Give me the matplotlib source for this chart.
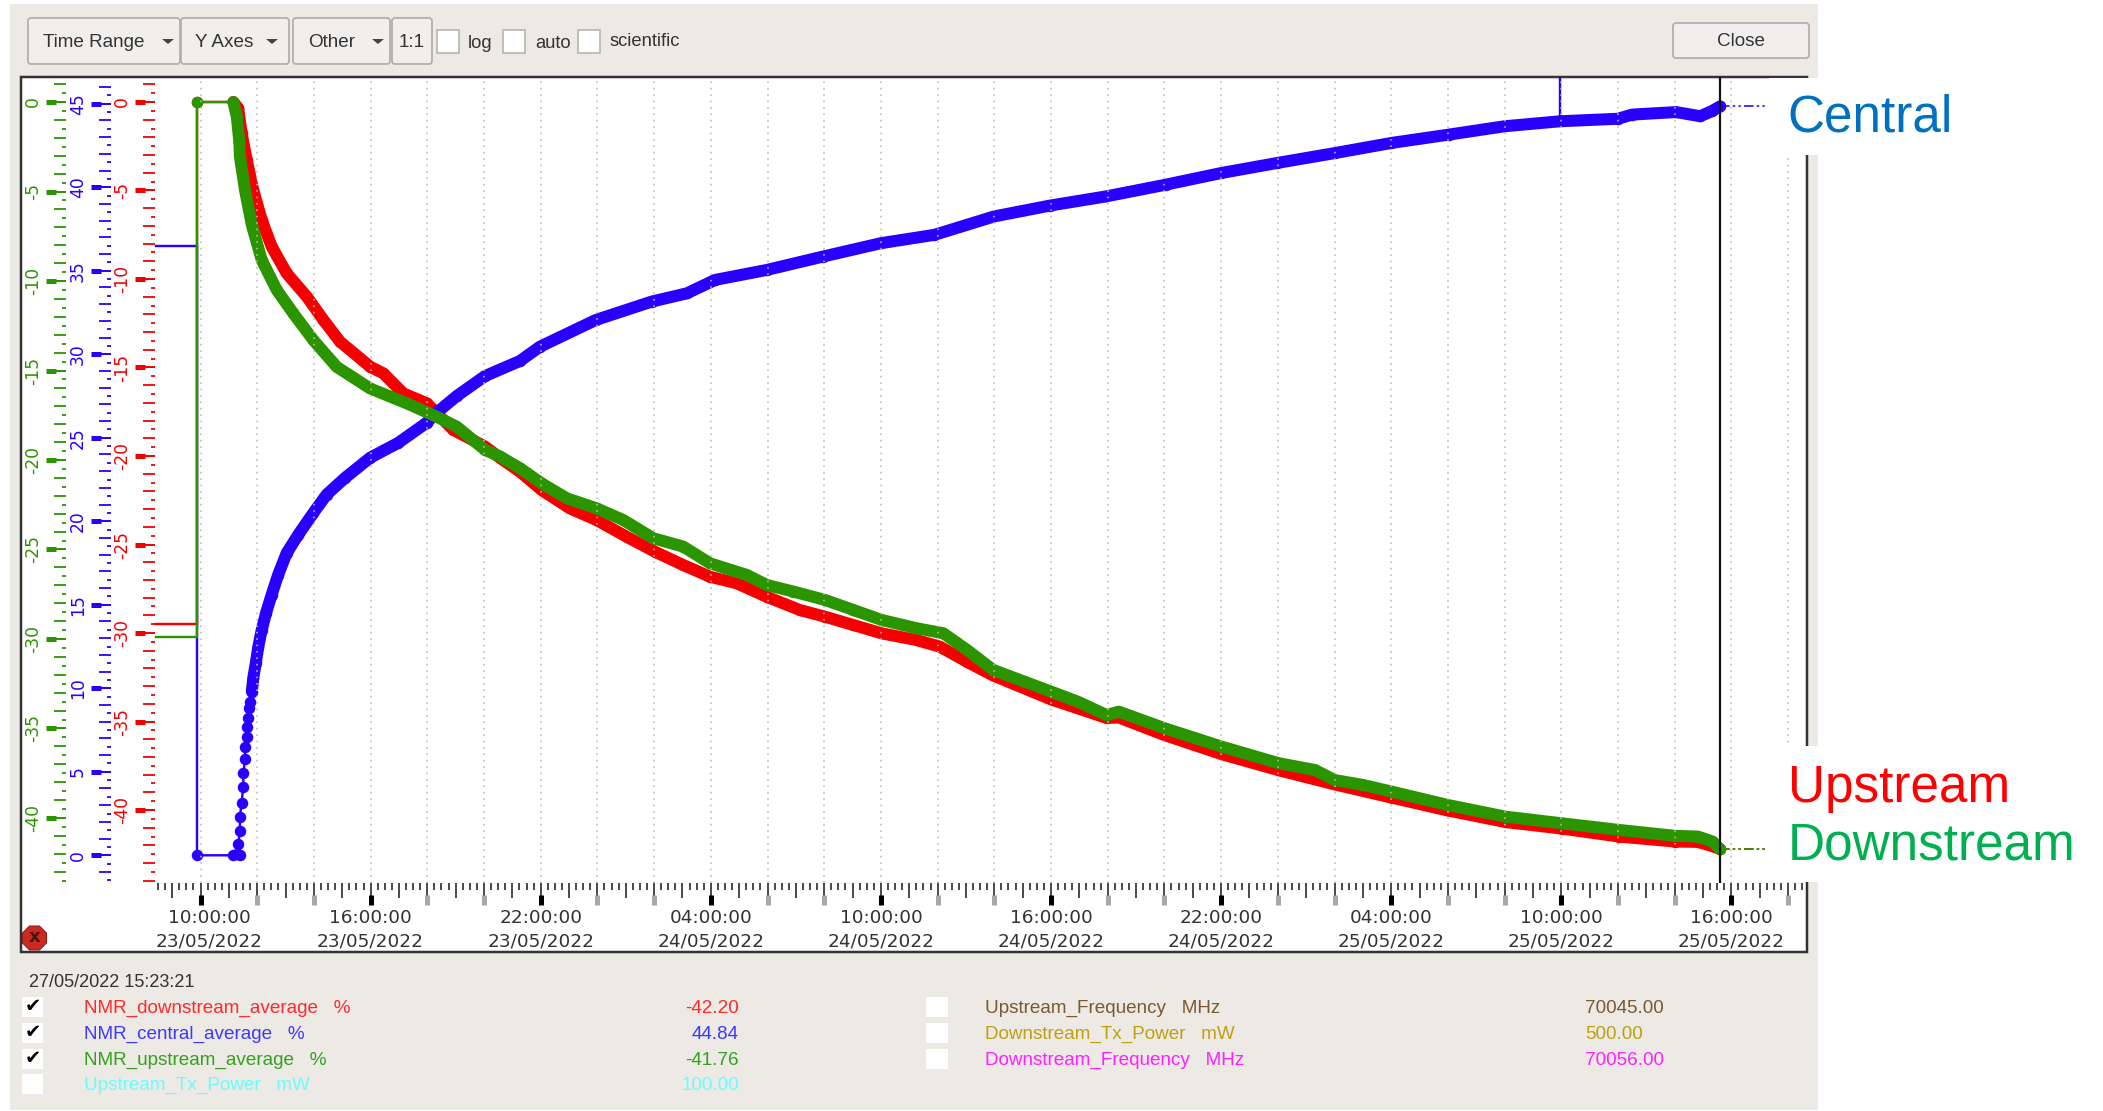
import matplotlib
matplotlib.use("Agg")
import matplotlib.pyplot as plt
from matplotlib.patches import Rectangle, FancyBboxPatch, Polygon, RegularPolygon

# ---------- data (hours since 10:00:00 23/05/2022, percent) ----------
central_t = [-0.13, 1.16, 1.28, 1.39, 1.33, 1.39, 1.39, 1.45, 1.51, 1.51, 1.57, 1.57, 1.63, 1.63, 1.69, 1.72, 1.75,
             1.81, 1.86, 1.95, 2.04, 2.16, 2.31, 2.51, 2.74, 3.04, 3.45, 3.98, 4.45, 5.1, 5.98, 6.98, 7.98, 8.33,
             9.04, 10.04, 11.27, 11.97, 13.94, 15.91, 17.16, 18.15, 19.98, 21.96, 24.0, 25.89, 27.99, 29.96,
             31.94, 34.04, 36.0, 37.97, 40.03, 42.0, 44.03, 46.0, 47.96, 50.0, 50.5, 52.05, 52.9, 53.3, 53.6]
central_v = [0, 0, 0.05, 0.0, 0.66, 1.44, 2.27, 3.15, 4.1, 4.9, 5.75, 6.47, 7.07, 7.66, 8.2, 8.8, 9.2,
             9.8, 10.6, 11.5, 12.5, 13.5, 14.5, 15.6, 16.8, 18.1, 19.2, 20.5, 21.6, 22.6, 23.8, 24.7, 25.9, 26.5,
             27.5, 28.7, 29.6, 30.45, 32.05, 33.15, 33.65, 34.45, 35.05, 35.85, 36.65, 37.15, 38.25, 38.9,
             39.45, 40.15, 40.85, 41.45, 42.05, 42.65, 43.15, 43.65, 43.95, 44.1, 44.35, 44.5, 44.25, 44.55, 44.84]
central_spike_t = [47.94, 47.94]
central_spike_v = [43.95, 47.5]

down_t = [-0.13, 1.16, 1.33, 1.45, 1.63, 1.86, 2.16, 2.51, 3.04, 3.75, 4.33, 4.92, 5.98, 6.45, 7.15, 7.98, 8.92,
          10.04, 10.56, 11.27, 12.03, 13.03, 13.97, 15.03, 16.03, 17.03, 17.97, 18.91, 19.97, 21.14, 22.03, 23.03,
          24.03, 25.26, 26.08, 27.03, 27.96, 30.0, 31.96, 32.39, 34.01, 36.03, 38.03, 40.0, 42.02, 43.98, 46.04,
          48.03, 50.04, 52.02, 52.82, 53.34, 53.6]
down_v = [0, 0, -0.36, -1.77, -3.28, -4.97, -6.67, -8.17, -9.68, -11.0, -12.3, -13.54, -14.95, -15.33, -16.46,
          -17.02, -18.53, -19.47, -20.1, -20.89, -21.92, -22.96, -23.62, -24.56, -25.41, -26.16, -26.82, -27.19,
          -27.95, -28.7, -29.08, -29.55, -30.02, -30.4, -30.77, -31.62, -32.4, -33.75, -34.8, -34.77, -35.77,
          -36.85, -37.75, -38.55, -39.3, -40.02, -40.68, -41.05, -41.5, -41.78, -41.8, -42.05, -42.2]

up_t = [-0.13, 1.16, 1.28, 1.37, 1.39, 1.57, 1.81, 2.16, 2.69, 3.27, 3.98, 4.8, 5.98, 7.27, 8.33, 9.04, 10.04,
        10.56, 11.27, 12.03, 12.92, 13.97, 14.91, 15.97, 17.03, 17.97, 19.27, 19.97, 20.91, 22.03, 23.03, 24.03,
        25.26, 26.2, 27.03, 27.96, 30.0, 30.94, 31.96, 32.39, 34.01, 36.03, 38.03, 39.31, 40.0, 41.02, 42.02,
        43.98, 46.04, 48.03, 50.04, 52.02, 52.82, 53.34, 53.6]
up_v = [0, 0, -0.82, -2.22, -3.05, -4.92, -6.87, -8.83, -10.5, -11.8, -13.3, -14.79, -16.0, -16.83, -17.58, -18.14,
        -19.44, -19.8, -20.46, -21.3, -22.14, -22.7, -23.35, -24.37, -24.84, -25.77, -26.42, -26.98, -27.35, -27.82,
        -28.38, -28.94, -29.4, -29.68, -30.6, -31.73, -32.94, -33.5, -34.25, -34.06, -34.99, -36.02, -36.94, -37.32,
        -37.88, -38.16, -38.53, -39.27, -39.93, -40.3, -40.67, -41.0, -41.04, -41.32, -41.76]

# value held before the archive starts, drawn as a stub at the left of the trace
stub_t = -1.57
central_before, down_before, up_before = 36.5, -29.5, -29.9
cursor_t = 53.6
tail_t = 55.3

time_ticks = [0, 6, 12, 18, 24, 30, 36, 42, 48, 54]
time_labels = ["10:00:00", "16:00:00", "22:00:00", "04:00:00", "10:00:00",
               "16:00:00", "22:00:00", "04:00:00", "10:00:00", "16:00:00"]
date_labels = ["23/05/2022", "23/05/2022", "23/05/2022", "24/05/2022", "24/05/2022",
               "24/05/2022", "24/05/2022", "25/05/2022", "25/05/2022", "25/05/2022"]

legend_left = [("NMR_downstream_average   %", "-42.20", True, "#ff2a2a"),
               ("NMR_central_average   %", "44.84", True, "#3a3aff"),
               ("NMR_upstream_average   %", "-41.76", True, "#35a020"),
               ("Upstream_Tx_Power   mW", "100.00", False, "#66ffff")]
legend_right = [("Upstream_Frequency   MHz", "70045.00", "#7a5a30"),
                ("Downstream_Tx_Power   mW", "500.00", "#bfa010"),
                ("Downstream_Frequency   MHz", "70056.00", "#ff22ff")]

# ---------- styles ----------
W, H = 2103, 1111
RED, BLUE, GREEN = "#f50000", "#2800ff", "#2b9500"
PANEL = "#ede9e5"
TXT = "#333333"
UI = "Liberation Sans"
px = 72 / 100.0

plt.rcParams["font.family"] = ["DejaVu Sans"]
fig = plt.figure(figsize=(W / 100, H / 100), dpi=100, facecolor="white")

bg = fig.add_axes([0, 0, 1, 1], zorder=0)
bg.set_xlim(0, W); bg.set_ylim(H, 0); bg.axis("off")

L, R, T, B = 21, 1807, 77, 952
pos = [L / W, 1 - B / H, (R - L) / W, (B - T) / H]


def fx(X):
    return (X - L) / (R - L)


def fy(Y):
    return (B - Y) / (B - T)


def make_axes(z, ylim):
    a = fig.add_axes(pos, zorder=z)
    a.set_xlim((L - 200.5) / 28.35, (R - 200.5) / 28.35)
    a.set_ylim(*ylim)
    a.axis("off")
    return a


ax_r = make_axes(1, (-48.02, 1.41))
ax_b = make_axes(2, (-5.79, 46.6))
ax_g = make_axes(3, (-47.49, 1.40))
top = make_axes(4, (0, 1))

over = fig.add_axes([0, 0, 1, 1], zorder=6)
over.set_xlim(0, W); over.set_ylim(H, 0); over.axis("off")

# ---------- window chrome ----------
bg.add_patch(Rectangle((10, 4), 1808, 1106, fc=PANEL, ec="none"))
bg.add_patch(Rectangle((L, T), R - L, B - T, fc="white", ec="#333333", lw=2.5 * px))


def button(x0, x1, y0, y1, label, arrow=None, lx=None):
    bg.add_patch(FancyBboxPatch((x0 + 2, y0 + 2), x1 - x0 - 4, y1 - y0 - 4,
                                boxstyle="round,pad=2,rounding_size=3",
                                fc="#f1efed", ec="#b4afaa", lw=1.8 * px))
    bg.text(lx if lx else (x0 + x1) / 2, (y0 + y1) / 2 + 1.5, label, family=UI, fontsize=13.6, color=TXT,
            ha="left" if lx else "center", va="center")
    if arrow:
        bg.add_patch(Polygon([(arrow - 6, 39), (arrow + 6, 39), (arrow, 44)], fc="#444444", ec="none"))


button(28, 180, 18, 64, "Time Range", 168, 43)
button(181, 289, 18, 64, "Y Axes", 272, 195)
button(293, 390, 18, 64, "Other", 378, 308)
button(392, 432, 18, 64, "1:1")
button(1673, 1809, 23, 58, "Close")
for x0 in (437, 503, 578):
    bg.add_patch(Rectangle((x0, 30), 22, 23, fc="white", ec="#bdb9b4", lw=1.8 * px))
bg.text(468, 44, "log", family=UI, fontsize=13.2, color=TXT, va="center")
bg.text(535, 44, "auto", family=UI, fontsize=13.2, color=TXT, va="center")
bg.text(610, 42, "scientific", family=UI, fontsize=13.2, color=TXT, va="center")

bg.text(29, 982.5, "27/05/2022 15:23:21", family=UI, fontsize=13.1, color=TXT, va="center")
row_y = [1007, 1033, 1059, 1084]
for (label, val, on, col), y in zip(legend_left, row_y):
    bg.add_patch(Rectangle((22, y - 10), 21, 20, fc="white", ec="none"))
    if on:
        bg.text(32.5, y, "\u2714", fontsize=14, color="black", ha="center", va="center")
    bg.text(84, y + 1.5, label, family=UI, fontsize=13.55, color=col, va="center")
    bg.text(739, y + 1.5, val, family=UI, fontsize=13.55, color=col, va="center", ha="right")
for (label, val, col), y in zip(legend_right, row_y):
    bg.add_patch(Rectangle((926, y - 10), 22, 20, fc="white", ec="none"))
    bg.text(985, y + 1.5, label, family=UI, fontsize=13.55, color=col, va="center")
    bg.text(1585.5, y + 1.5, val, family=UI, fontsize=13.55, color=col, va="center")

bg.add_patch(RegularPolygon((34.5, 938), 8, radius=13, fc="#c92a22", ec="#8a1a14", lw=1 * px, orientation=0.39))
bg.text(34.5, 937, "x", fontsize=13, fontweight="bold", color="#4a1410", ha="center", va="center")


# ---------- y rulers ----------
def ruler(a, col, right, lo, hi, majors, label_x):
    vals = [lo + i * 0.5 for i in range(int(round((hi - lo) * 2)) + 1)]
    for v in vals:
        whole = abs(v - round(v)) < 1e-6
        n = 12 if whole else 4
        a.hlines(v, fx(right - n), fx(right), color=col, lw=1.8 * px, transform=a.get_yaxis_transform())
    for m in majors:
        a.hlines(m, fx(right - 10), fx(right), color=col, lw=1.8 * px, transform=a.get_yaxis_transform())
        a.hlines(m, fx(right - 20), fx(right - 10), color=col, lw=5 * px, transform=a.get_yaxis_transform())
        a.text(fx(label_x), m, str(m), color=col, fontsize=12.3, rotation=90, ha="center", va="center",
               transform=a.get_yaxis_transform())


ruler(ax_g, GREEN, 66, -43.5, 1, list(range(0, -45, -5)), 33)
ruler(ax_b, BLUE, 110.5, -1.5, 46, list(range(0, 50, 5)), 78)
ruler(ax_r, RED, 155, -44, 1, list(range(0, -45, -5)), 122)


# ---------- traces ----------
def trace(a, t, v, before, col, thick_from):
    a.plot([stub_t, t[0], t[0]], [before, before, v[0]], color=col, lw=2.4 * px, zorder=2,
           solid_joinstyle="miter")
    a.plot(t, v, color=col, lw=2.4 * px, marker="o", ms=11.5 * px, mec=col, mew=0, zorder=3)
    a.plot(t[thick_from:], v[thick_from:], color=col, lw=12 * px, solid_capstyle="round",
           solid_joinstyle="round", zorder=3)
    a.plot([t[-1], tail_t], [v[-1], v[-1]], color=col, lw=1.6 * px, zorder=2, dashes=(6, 2, 1.5, 2, 1.5, 2))


trace(ax_r, down_t, down_v, down_before, RED, 1)
trace(ax_b, central_t, central_v, central_before, BLUE, 17)
ax_b.plot(central_spike_t, central_spike_v, color=BLUE, lw=2.4 * px, zorder=3)
trace(ax_g, up_t, up_v, up_before, GREEN, 1)

# ---------- time axis, grid and cursor ----------
xtr = top.get_xaxis_transform()
grid_top, axis_top = fy(77), fy(883)
for i in range(0, 29):
    h = i * 2
    top.vlines(h, axis_top, grid_top, color="#b9b9b9", lw=1.6 * px, linestyles=(0, (1, 3)), transform=xtr, zorder=5)
for i in range(-6, 227):
    h = i * 0.25
    y_end = fy(898) if i % 4 == 0 else fy(890)
    top.vlines(h, y_end, axis_top, color="#222222", lw=1.6 * px, transform=xtr)
for h in range(0, 57, 2):
    labelled = h in time_ticks
    top.vlines(h, fy(905), fy(895), color="black" if labelled else "#a8a8a8", lw=5 * px, transform=xtr)
for h, a_, b_ in zip(time_ticks, time_labels, date_labels):
    shift = 8.5 / 28.35 if h == 0 else 0
    top.text(h + shift, fy(918), a_, color=TXT, fontsize=13.3, ha="center", va="center", transform=xtr)
    top.text(h + shift, fy(942), b_, color=TXT, fontsize=13.3, ha="center", va="center", transform=xtr)
top.vlines(cursor_t, axis_top, 1, color="#111111", lw=2.2 * px, transform=xtr, zorder=6)

# ---------- annotations pasted on top ----------
over.add_patch(Rectangle((1769, 78), 60, 77, fc="white", ec="none"))
over.add_patch(Rectangle((1769, 746), 60, 136, fc="white", ec="none"))
over.add_patch(Rectangle((1818, 0), 285, H, fc="white", ec="none"))
over.text(1787, 132, "Central", family=UI, fontsize=36.9, color="#0070c0", va="baseline")
over.text(1788, 802, "Upstream", family=UI, fontsize=36.9, color="#ff0000", va="baseline")
over.text(1788, 859, "Downstream", family=UI, fontsize=36.9, color="#00b050", va="baseline")

fig.savefig("out.png", dpi=100, facecolor="white")
